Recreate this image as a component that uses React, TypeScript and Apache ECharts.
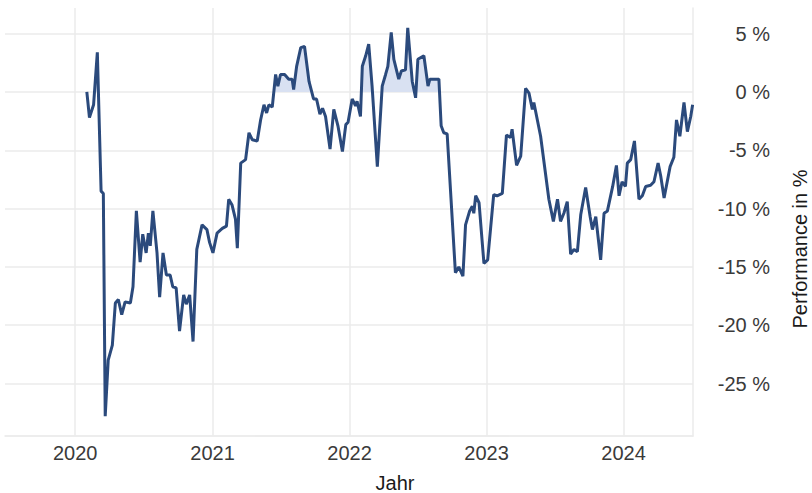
import React, { useEffect, useRef } from "react";
import * as echarts from "echarts";

const dates = [
  "2020-02-01","2020-02-08","2020-02-19","2020-02-29","2020-03-10","2020-03-16","2020-03-21","2020-03-29",
  "2020-04-09","2020-04-17","2020-04-25","2020-05-04","2020-05-13","2020-05-27","2020-06-03","2020-06-12",
  "2020-06-22","2020-06-29","2020-07-08","2020-07-14","2020-07-19","2020-07-26","2020-08-06","2020-08-13",
  "2020-08-22","2020-08-31","2020-09-10","2020-09-17","2020-09-26","2020-10-05","2020-10-16","2020-10-23",
  "2020-11-01","2020-11-10","2020-11-20","2020-12-04","2020-12-17","2020-12-24","2021-01-02",
  "2021-01-13","2021-01-27","2021-02-07","2021-02-13","2021-02-22","2021-03-03","2021-03-08","2021-03-17",
  "2021-03-30","2021-04-08","2021-04-17","2021-04-30","2021-05-09","2021-05-18","2021-05-25","2021-05-31",
  "2021-06-09","2021-06-18","2021-06-24","2021-07-01","2021-07-12","2021-07-23","2021-08-01","2021-08-05",
  "2021-08-13","2021-08-24","2021-09-03","2021-09-15","2021-09-27","2021-10-05","2021-10-14","2021-10-21",
  "2021-10-29","2021-11-10","2021-11-20","2021-12-01","2021-12-13","2021-12-22","2021-12-28",
  "2022-01-08","2022-01-17","2022-01-21","2022-01-30","2022-02-04","2022-02-13","2022-02-21","2022-03-02",
  "2022-03-16","2022-03-29","2022-04-07","2022-04-13","2022-04-22","2022-04-29","2022-05-12","2022-05-19",
  "2022-05-30","2022-06-05","2022-06-17","2022-06-26","2022-07-02","2022-07-18","2022-07-29","2022-08-03",
  "2022-08-27","2022-09-02","2022-09-09","2022-09-18","2022-10-10","2022-10-19","2022-10-30","2022-11-06",
  "2022-11-17","2022-11-24","2022-11-28","2022-12-03","2022-12-12","2022-12-25",
  "2023-01-04","2023-01-20","2023-01-29","2023-02-12","2023-02-23","2023-03-06","2023-03-10","2023-03-22",
  "2023-04-02","2023-04-15","2023-04-24","2023-05-03","2023-05-07","2023-05-25","2023-06-16","2023-06-28",
  "2023-07-09","2023-07-17","2023-07-26","2023-08-04","2023-08-13","2023-08-22","2023-08-31","2023-09-09",
  "2023-09-22","2023-10-04","2023-10-10","2023-10-19","2023-11-01","2023-11-10","2023-11-19","2023-12-03",
  "2023-12-13","2023-12-20","2023-12-28",
  "2024-01-06","2024-01-11","2024-01-20","2024-01-30","2024-02-11","2024-02-20","2024-02-29","2024-03-13",
  "2024-03-22","2024-04-02","2024-04-09","2024-04-18","2024-05-04","2024-05-14","2024-05-21","2024-05-30",
  "2024-06-10","2024-06-19","2024-06-28","2024-07-03"
];

const performance = [
  0.0, -2.2, -1.1, 3.4, -8.5, -8.7, -27.8, -23.0,
  -21.7, -18.1, -17.8, -19.1, -18.0, -18.1, -16.7, -10.2,
  -14.6, -12.2, -13.8, -12.1, -13.2, -10.2, -13.8, -17.6,
  -13.8, -15.7, -15.7, -16.7, -16.8, -20.5, -17.4, -18.2,
  -17.4, -21.4, -13.5, -11.4, -11.8, -12.9, -13.8,
  -12.1, -11.7, -11.5, -9.2, -9.7, -10.9, -13.4, -6.1,
  -5.8, -3.5, -4.1, -4.2, -2.4, -1.1, -1.8, -1.1,
  -1.3, 1.5, 0.5, 1.5, 1.5, 1.1, 1.1, 0.2,
  2.2, 3.8, 3.9, 0.9, -0.6, -0.6, -1.9, -1.4,
  -2.1, -4.9, -1.5, -2.9, -5.1, -2.8, -2.6,
  -0.6, -1.2, -0.8, -2.1, 2.2, 3.1, 4.1, 0.5,
  -6.4, 0.5, 1.5, 2.2, 5.1, 2.8, 1.1, 1.8,
  1.9, 5.5, 0.9, -0.5, 2.8, 3.1, 0.5, 1.1,
  1.1, -2.9, -3.5, -3.6, -15.5, -15.0, -15.8, -11.4,
  -10.2, -9.8, -10.4, -8.9, -9.5, -14.7,
  -14.4, -8.8, -8.9, -8.7, -3.7, -3.9, -3.2, -6.3,
  -5.5, 0.3, -0.1, -1.5, -0.9, -3.8, -9.2, -11.1,
  -9.2, -11.1, -10.4, -9.4, -13.9, -13.5, -13.7, -10.5,
  -8.2, -10.7, -11.8, -10.7, -14.4, -10.4, -10.2, -8.1,
  -6.3, -8.9, -7.7,
  -8.1, -6.1, -5.8, -4.2, -9.2, -8.9, -8.1, -8.0,
  -7.7, -6.1, -7.2, -9.1, -6.4, -5.6, -2.4, -3.8,
  -0.9, -3.4, -2.1, -1.1
];

const xTitle = "Jahr";
const yTitle = "Performance in %";
const yMin = -29.5;
const yMax = 7.2;

export default function App() {
  const ref = useRef<HTMLDivElement>(null);
  useEffect(() => {
    document.body.style.margin = "0";
    if (!ref.current) return;
    const chart = echarts.init(ref.current, null, { renderer: "svg" });
    const seriesData = dates.map((d, i) => [d, performance[i]]);
    const font = "Liberation Sans, Arial, sans-serif";
    const fillColor = "#d9e1f2";
    chart.setOption({
      animation: false,
      backgroundColor: "#ffffff",
      grid: { left: 5, top: 8, right: 119, bottom: 57, containLabel: false },
      xAxis: {
        type: "time",
        min: "2019-06-28",
        max: "2024-07-04",
        axisLine: { show: true, onZero: false, lineStyle: { color: "#ebebeb", width: 1.5 } },
        axisTick: { show: false },
        axisLabel: {
          formatter: (v: number) => {
            const d = new Date(v);
            return d.getMonth() === 0 && d.getDate() === 1 ? String(d.getFullYear()) : "";
          },
          showMinLabel: false,
          showMaxLabel: false,
          color: "#3a3a3a",
          fontSize: 20,
          fontFamily: font,
          margin: 7,
        },
        splitLine: {
          show: true,
          showMinLine: false,
          showMaxLine: false,
          lineStyle: { color: "#ebebeb", width: 1.5 },
        },
      },
      yAxis: {
        type: "value",
        position: "right",
        min: yMin,
        max: yMax,
        splitNumber: 7,
        axisLine: { show: true, onZero: false, lineStyle: { color: "#ebebeb", width: 1.5 } },
        axisTick: { show: false },
        axisLabel: {
          formatter: (v: number) => (Math.abs(v % 5) < 1e-9 ? `${v} %` : ""),
          showMinLabel: false,
          showMaxLabel: false,
          align: "right",
          margin: 77,
          color: "#3a3a3a",
          fontSize: 20,
          fontFamily: font,
        },
        splitLine: {
          show: true,
          showMinLine: true,
          showMaxLine: false,
          lineStyle: { color: "#ebebeb", width: 1.5 },
        },
      },
      series: [
        {
          type: "line",
          data: seriesData,
          showSymbol: false,
          lineStyle: { opacity: 0, width: 0 },
          areaStyle: { opacity: 1, origin: 0, color: fillColor },
          z: 1,
          silent: true,
        },
        {
          type: "line",
          data: seriesData,
          showSymbol: false,
          color: "#2b4a7c",
          lineStyle: { color: "#2b4a7c", width: 3 },
          z: 2,
        },
      ],
      graphic: [
        {
          type: "text",
          x: 395,
          y: 483,
          style: {
            text: xTitle,
            fontSize: 20,
            fontFamily: font,
            fill: "#1a1a1a",
            textAlign: "center",
            textVerticalAlign: "middle",
          },
        },
        {
          type: "text",
          x: 800,
          y: 249,
          rotation: Math.PI / 2,
          style: {
            text: yTitle,
            fontSize: 20,
            fontFamily: font,
            fill: "#1a1a1a",
            textAlign: "center",
            textVerticalAlign: "middle",
          },
        },
      ],
    });
    const yZero = chart.convertToPixel({ yAxisIndex: 0 }, 0) as number;
    const yTop = chart.convertToPixel({ yAxisIndex: 0 }, yMax) as number;
    const yBottom = chart.convertToPixel({ yAxisIndex: 0 }, yMin) as number;
    if (isFinite(yZero) && isFinite(yTop) && isFinite(yBottom)) {
      const f = (yZero - yTop) / (yBottom - yTop);
      chart.setOption({
        series: [
          {
            areaStyle: {
              color: new echarts.graphic.LinearGradient(
                0, yTop, 0, yBottom,
                [
                  { offset: 0, color: fillColor },
                  { offset: f, color: fillColor },
                  { offset: f, color: "rgba(217,225,242,0)" },
                  { offset: 1, color: "rgba(217,225,242,0)" },
                ],
                true
              ),
            },
          },
          {},
        ],
      });
    }
    return () => chart.dispose();
  }, []);
  return <div ref={ref} style={{ width: 812, height: 493 }} />;
}
